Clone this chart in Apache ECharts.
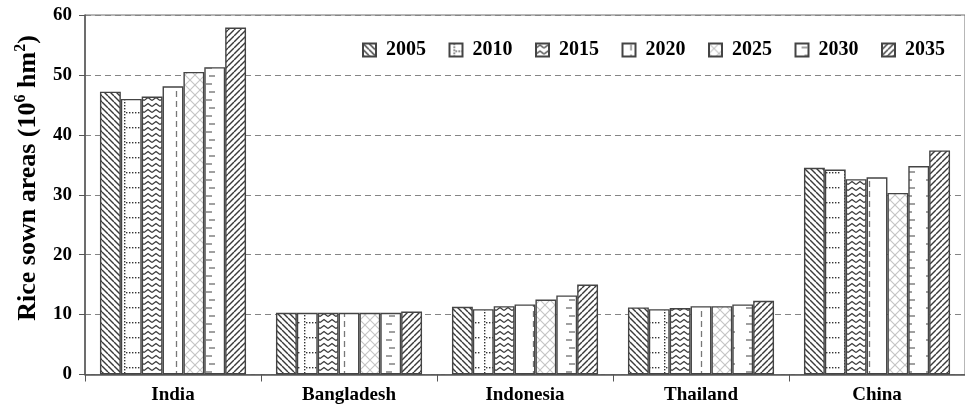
<!DOCTYPE html>
<html>
<head>
<meta charset="utf-8">
<script src="https://cdn.jsdelivr.net/npm/echarts@6/dist/echarts.min.js"></script>
<style>
  html, body { margin: 0; padding: 0; background: #fff; }
  #chart { width: 965px; height: 408px; }
</style>
</head>
<body>
<div id="chart"></div>
<script>
// Rice sown area by country, projected in five-year steps (10^6 hm^2)
const countries = ['India', 'Bangladesh', 'Indonesia', 'Thailand', 'China'];
const years = ['2005', '2010', '2015', '2020', '2025', '2030', '2035'];
const area2005 = [47.2, 10.3, 11.3, 11.2, 34.5];
const area2010 = [46.0, 10.3, 10.9, 10.9, 34.2];
const area2015 = [46.4, 10.3, 11.4, 11.1, 32.6];
const area2020 = [48.1, 10.3, 11.7, 11.4, 32.9];
const area2025 = [50.5, 10.3, 12.5, 11.4, 30.3];
const area2030 = [51.3, 10.3, 13.2, 11.7, 34.8];
const area2035 = [57.9, 10.5, 15.0, 12.3, 37.4];
const yTicks = [0, 10, 20, 30, 40, 50, 60];

const seriesValues = [area2005, area2010, area2015, area2020, area2025, area2030, area2035];

// Monochrome hatch fills, one per year
function tile(w, h, draw) {
  const c = document.createElement('canvas');
  c.width = w; c.height = h;
  const ctx = c.getContext('2d');
  ctx.fillStyle = '#fff';
  ctx.fillRect(0, 0, w, h);
  draw(ctx, w, h);
  return { image: c, repeat: 'repeat' };
}
function diag(ctx, s, dir, color, lw) {
  ctx.strokeStyle = color; ctx.lineWidth = lw;
  for (let k = -s; k <= s; k += s) {
    ctx.beginPath();
    if (dir > 0) { ctx.moveTo(k, 0); ctx.lineTo(k + s, s); }
    else { ctx.moveTo(k, s); ctx.lineTo(k + s, 0); }
    ctx.stroke();
  }
}
const fills = [
  // backslash hatch
  tile(6, 6, (ctx) => diag(ctx, 6, 1, '#3a3a3a', 1.4)),
  // dotted grid
  tile(20, 15, (ctx) => {
    ctx.fillStyle = '#333';
    for (let y = 0; y < 15; y += 3) ctx.fillRect(4, y, 1.4, 1.4);
    for (let x = 6; x < 20; x += 3) ctx.fillRect(x, 7, 1.4, 1.4);
  }),
  // zigzag
  tile(8, 6, (ctx) => {
    ctx.strokeStyle = '#3a3a3a'; ctx.lineWidth = 1.3;
    ctx.beginPath(); ctx.moveTo(0, 4.5); ctx.lineTo(4, 1.5); ctx.lineTo(8, 4.5); ctx.stroke();
  }),
  // single dashed vertical
  tile(21, 10, (ctx) => {
    ctx.strokeStyle = '#777'; ctx.lineWidth = 1.3;
    ctx.beginPath(); ctx.moveTo(8.5, 1); ctx.lineTo(8.5, 7); ctx.stroke();
  }),
  // light crosshatch
  tile(10, 10, (ctx) => {
    diag(ctx, 10, 1, '#c4c4c4', 1.1);
    diag(ctx, 10, -1, '#c4c4c4', 1.1);
  }),
  // short horizontal dashes
  tile(20, 16, (ctx) => {
    ctx.strokeStyle = '#777'; ctx.lineWidth = 1.4;
    ctx.beginPath(); ctx.moveTo(6, 4); ctx.lineTo(12, 4); ctx.stroke();
    ctx.beginPath(); ctx.moveTo(9, 12); ctx.lineTo(15, 12); ctx.stroke();
  }),
  // slash hatch
  tile(6, 6, (ctx) => diag(ctx, 6, -1, '#3a3a3a', 1.4))
];

const serif = '"Liberation Serif", "Times New Roman", serif';

const chart = echarts.init(document.getElementById('chart'), null, { renderer: 'canvas' });
chart.setOption({
  animation: false,
  backgroundColor: '#fff',
  textStyle: { fontFamily: serif },
  grid: {
    left: 85, top: 15, width: 882, height: 359.5,
    show: true, borderColor: '#6e6e6e', borderWidth: 1, backgroundColor: '#fff'
  },
  legend: {
    left: 357, top: 35,
    itemWidth: 13, itemHeight: 13, itemGap: 22.5,
    icon: 'rect',
    textStyle: { fontFamily: serif, fontSize: 20, fontWeight: 'bold', color: '#000', padding: [0, 0, 0, 5] },
    data: years
  },
  xAxis: {
    type: 'category',
    data: countries,
    axisLine: { lineStyle: { color: '#555', width: 1.5 } },
    axisTick: { show: true, length: 7, lineStyle: { color: '#555' } },
    axisLabel: { margin: 11, fontFamily: serif, fontSize: 19, fontWeight: 'bold', color: '#000' }
  },
  yAxis: {
    type: 'value',
    min: yTicks[0], max: yTicks[yTicks.length - 1], interval: 10,
    axisLine: { show: true, lineStyle: { color: '#555', width: 1.5 } },
    axisTick: { show: true, length: 6, lineStyle: { color: '#555' } },
    axisLabel: { margin: 13, fontFamily: serif, fontSize: 19, fontWeight: 'bold', color: '#000' },
    splitLine: { show: true, lineStyle: { color: '#858585', type: [6, 4], width: 1.2 } }
  },
  graphic: [{
    type: 'text',
    x: 27, y: 178,
    rotation: Math.PI / 2,
    style: {
      text: '{a|Rice sown areas (10}{s|6}{a| hm}{s|2}{a|)}',
      align: 'center', verticalAlign: 'middle',
      rich: {
        a: { fontFamily: serif, fontSize: 26, fontWeight: 'bold', fill: '#000', lineHeight: 29, verticalAlign: 'bottom' },
        s: { fontFamily: serif, fontSize: 16, fontWeight: 'bold', fill: '#000', lineHeight: 29, verticalAlign: 'top', padding: [0, 0, 9, 0] }
      }
    }
  }],
  series: years.map((y, i) => ({
    name: y,
    type: 'bar',
    data: seriesValues[i],
    barGap: '0%',
    barCategoryGap: '17%',
    itemStyle: { color: fills[i], borderColor: '#444', borderWidth: 1.4 }
  }))
});
</script>
</body>
</html>
